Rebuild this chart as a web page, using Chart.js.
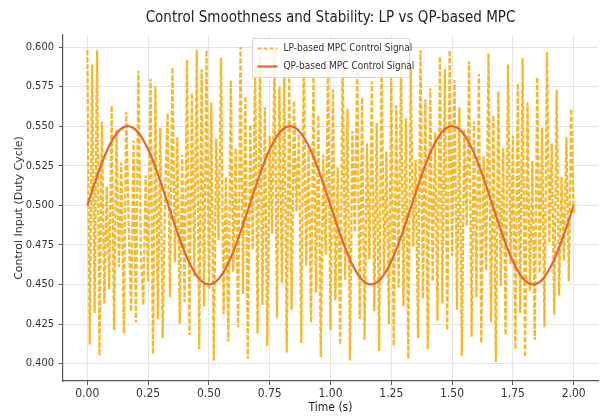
<!DOCTYPE html>
<html>
<head>
<meta charset="utf-8">
<script src="https://cdn.jsdelivr.net/npm/chart.js@4.4.1/dist/chart.umd.min.js"></script>
<style>
  html, body { margin: 0; padding: 0; background: #fff; }
  #wrap { width: 600px; height: 419px; }
</style>
</head>
<body>
<div id="wrap"><canvas id="chart" width="600" height="419"></canvas></div>
<script>
// time grid of the LP signal (s)
const lpTime = [
  0.00, 0.01, 0.02, 0.03, 0.04, 0.05, 0.06, 0.07, 0.08, 0.09,
  0.10, 0.11, 0.12, 0.13, 0.14, 0.15, 0.16, 0.17, 0.18, 0.19,
  0.20, 0.21, 0.22, 0.23, 0.24, 0.25, 0.26, 0.27, 0.28, 0.29,
  0.30, 0.31, 0.32, 0.33, 0.34, 0.35, 0.36, 0.37, 0.38, 0.39,
  0.40, 0.41, 0.42, 0.43, 0.44, 0.45, 0.46, 0.47, 0.48, 0.49,
  0.50, 0.51, 0.52, 0.53, 0.54, 0.55, 0.56, 0.57, 0.58, 0.59,
  0.60, 0.61, 0.62, 0.63, 0.64, 0.65, 0.66, 0.67, 0.68, 0.69,
  0.70, 0.71, 0.72, 0.73, 0.74, 0.75, 0.76, 0.77, 0.78, 0.79,
  0.80, 0.81, 0.82, 0.83, 0.84, 0.85, 0.86, 0.87, 0.88, 0.89,
  0.90, 0.91, 0.92, 0.93, 0.94, 0.95, 0.96, 0.97, 0.98, 0.99,
  1.00, 1.01, 1.02, 1.03, 1.04, 1.05, 1.06, 1.07, 1.08, 1.09,
  1.10, 1.11, 1.12, 1.13, 1.14, 1.15, 1.16, 1.17, 1.18, 1.19,
  1.20, 1.21, 1.22, 1.23, 1.24, 1.25, 1.26, 1.27, 1.28, 1.29,
  1.30, 1.31, 1.32, 1.33, 1.34, 1.35, 1.36, 1.37, 1.38, 1.39,
  1.40, 1.41, 1.42, 1.43, 1.44, 1.45, 1.46, 1.47, 1.48, 1.49,
  1.50, 1.51, 1.52, 1.53, 1.54, 1.55, 1.56, 1.57, 1.58, 1.59,
  1.60, 1.61, 1.62, 1.63, 1.64, 1.65, 1.66, 1.67, 1.68, 1.69,
  1.70, 1.71, 1.72, 1.73, 1.74, 1.75, 1.76, 1.77, 1.78, 1.79,
  1.80, 1.81, 1.82, 1.83, 1.84, 1.85, 1.86, 1.87, 1.88, 1.89,
  1.90, 1.91, 1.92, 1.93, 1.94, 1.95, 1.96, 1.97, 1.98, 1.99,
  2.00
];

// LP-based MPC control signal (approximate)
const lpValues = [
  0.598, 0.412, 0.589, 0.432, 0.598, 0.405, 0.553, 0.438, 0.512, 0.447,
  0.563, 0.421, 0.548, 0.461, 0.527, 0.419, 0.559, 0.488, 0.433, 0.541,
  0.426, 0.585, 0.471, 0.437, 0.519, 0.452, 0.580, 0.406, 0.575, 0.428,
  0.549, 0.416, 0.509, 0.558, 0.442, 0.587, 0.464, 0.543, 0.425, 0.532,
  0.439, 0.592, 0.418, 0.571, 0.455, 0.598, 0.409, 0.586, 0.436, 0.598,
  0.447, 0.565, 0.402, 0.542, 0.478, 0.593, 0.431, 0.518, 0.414, 0.579,
  0.458, 0.536, 0.423, 0.600, 0.444, 0.569, 0.403, 0.551, 0.472, 0.588,
  0.419, 0.596, 0.437, 0.562, 0.411, 0.544, 0.482, 0.597, 0.429, 0.575,
  0.451, 0.590, 0.407, 0.583, 0.434, 0.566, 0.496, 0.545, 0.413, 0.598,
  0.462, 0.538, 0.426, 0.581, 0.445, 0.557, 0.404, 0.532, 0.469, 0.594,
  0.421, 0.573, 0.440, 0.524, 0.412, 0.597, 0.453, 0.561, 0.402, 0.547,
  0.483, 0.589, 0.428, 0.568, 0.415, 0.539, 0.466, 0.578, 0.433, 0.552,
  0.408, 0.595, 0.457, 0.534, 0.425, 0.581, 0.411, 0.563, 0.448, 0.591,
  0.436, 0.555, 0.403, 0.587, 0.474, 0.529, 0.416, 0.598, 0.441, 0.567,
  0.409, 0.574, 0.452, 0.546, 0.427, 0.594, 0.438, 0.586, 0.421, 0.598,
  0.468, 0.579, 0.434, 0.562, 0.405, 0.548, 0.487, 0.591, 0.417, 0.553,
  0.442, 0.583, 0.413, 0.531, 0.459, 0.596, 0.426, 0.557, 0.401, 0.572,
  0.449, 0.536, 0.418, 0.589, 0.463, 0.544, 0.409, 0.577, 0.432, 0.593,
  0.404, 0.565, 0.446, 0.528, 0.415, 0.581, 0.457, 0.549, 0.423, 0.597,
  0.476, 0.539, 0.431, 0.573, 0.443, 0.518, 0.465, 0.543, 0.452, 0.561,
  0.494
];

// QP-based MPC control signal (smooth)
const qpTime = [
  0.0000, 0.0417, 0.0833, 0.1250, 0.1667, 0.2083, 0.2500, 0.2917,
  0.3333, 0.3750, 0.4167, 0.4583, 0.5000, 0.5417, 0.5833, 0.6250,
  0.6667, 0.7083, 0.7500, 0.7917, 0.8333, 0.8750, 0.9167, 0.9583,
  1.0000, 1.0417, 1.0833, 1.1250, 1.1667, 1.2083, 1.2500, 1.2917,
  1.3333, 1.3750, 1.4167, 1.4583, 1.5000, 1.5417, 1.5833, 1.6250,
  1.6667, 1.7083, 1.7500, 1.7917, 1.8333, 1.8750, 1.9167, 1.9583,
  2.0000
];
const qpValues = [
  0.5000, 0.5191, 0.5354, 0.5462, 0.5500, 0.5462, 0.5354, 0.5191,
  0.5000, 0.4809, 0.4646, 0.4538, 0.4500, 0.4538, 0.4646, 0.4809,
  0.5000, 0.5191, 0.5354, 0.5462, 0.5500, 0.5462, 0.5354, 0.5191,
  0.5000, 0.4809, 0.4646, 0.4538, 0.4500, 0.4538, 0.4646, 0.4809,
  0.5000, 0.5191, 0.5354, 0.5462, 0.5500, 0.5462, 0.5354, 0.5191,
  0.5000, 0.4809, 0.4646, 0.4538, 0.4500, 0.4538, 0.4646, 0.4809,
  0.5000
];

const xTicks = [0, 0.25, 0.5, 0.75, 1.0, 1.25, 1.5, 1.75, 2.0];
const yTicks = [0.400, 0.425, 0.450, 0.475, 0.500, 0.525, 0.550, 0.575, 0.600];

const seriesNames = ['LP-based MPC Control Signal', 'QP-based MPC Control Signal'];
const chartTitle = 'Control Smoothness and Stability: LP vs QP-based MPC';

const LP_COLOR = 'rgba(243, 176, 20, 0.9)';
const QP_COLOR = '#e8642c';
const FONT = "'DejaVu Sans Condensed', 'DejaVu Sans', sans-serif";

// title centred over the axes, legend inside the plot (upper centre)
const decorations = {
  id: 'decorations',
  afterDraw(chart) {
    const ctx = chart.ctx;
    const a = chart.chartArea;
    const cx = (a.left + a.right) / 2;
    ctx.save();
    ctx.font = '15px ' + FONT;
    ctx.fillStyle = '#222';
    ctx.textAlign = 'center';
    ctx.textBaseline = 'middle';
    ctx.fillText(chartTitle, cx, 18);

    const w = 157, h = 39;
    const x0 = Math.round(cx - w / 2) + 0.5;
    const y0 = a.top + 3.5;
    ctx.fillStyle = 'rgba(255,255,255,0.85)';
    ctx.strokeStyle = '#d6d6d6';
    ctx.lineWidth = 1;
    ctx.beginPath();
    ctx.rect(x0, y0, w, h);
    ctx.fill();
    ctx.stroke();

    ctx.textAlign = 'left';
    ctx.font = '10px ' + FONT;
    ctx.fillStyle = '#333';
    const rows = [y0 + 10, y0 + 28];
    ctx.strokeStyle = LP_COLOR;
    ctx.lineWidth = 2;
    ctx.setLineDash([4, 2]);
    ctx.beginPath();
    ctx.moveTo(x0 + 5, rows[0]);
    ctx.lineTo(x0 + 25, rows[0]);
    ctx.stroke();
    ctx.setLineDash([]);
    ctx.strokeStyle = QP_COLOR;
    ctx.lineWidth = 2.2;
    ctx.beginPath();
    ctx.moveTo(x0 + 5, rows[1]);
    ctx.lineTo(x0 + 25, rows[1]);
    ctx.stroke();

    ctx.fillText(seriesNames[0], x0 + 31, rows[0]);
    ctx.fillText(seriesNames[1], x0 + 31, rows[1]);
    ctx.restore();
  }
};

const ctx = document.getElementById('chart').getContext('2d');
new Chart(ctx, {
  type: 'line',
  data: {
    datasets: [
      {
        label: seriesNames[0],
        data: lpTime.map((t, i) => ({ x: t, y: lpValues[i] })),
        borderColor: LP_COLOR,
        borderWidth: 2.3,
        borderDash: [5, 2],
        pointRadius: 0,
        tension: 0,
        order: 1
      },
      {
        label: seriesNames[1],
        data: qpTime.map((t, i) => ({ x: t, y: qpValues[i] })),
        borderColor: QP_COLOR,
        borderWidth: 2.2,
        pointRadius: 0,
        cubicInterpolationMode: 'monotone',
        order: 0
      }
    ]
  },
  options: {
    responsive: false,
    animation: false,
    layout: { padding: { left: 0, right: 2, top: 35, bottom: 0 } },
    plugins: {
      legend: { display: false },
      tooltip: { enabled: false },
      title: { display: false }
    },
    scales: {
      x: {
        type: 'linear',
        min: -0.1,
        max: 2.1,
        afterBuildTicks: (s) => { s.ticks = xTicks.map(v => ({ value: v })); },
        afterFit: (s) => { s.height = 38; },
        ticks: {
          color: '#333',
          font: { family: FONT, size: 12 },
          padding: 2,
          maxRotation: 0,
          callback: (v) => Number(v).toFixed(2)
        },
        grid: { color: '#e4e4e4', tickColor: '#555', tickLength: 4 },
        border: { display: true, color: '#555', width: 1.2 },
        title: {
          display: true,
          text: 'Time (s)',
          color: '#222',
          font: { family: FONT, size: 12 },
          padding: { top: 0, bottom: 4 }
        }
      },
      y: {
        min: 0.389,
        max: 0.6076,
        afterBuildTicks: (s) => { s.ticks = yTicks.map(v => ({ value: v })); },
        afterFit: (s) => { s.width = 63; },
        ticks: {
          color: '#333',
          font: { family: FONT, size: 11 },
          padding: 5,
          callback: (v) => Number(v).toFixed(3)
        },
        grid: { color: '#e4e4e4', tickColor: '#555', tickLength: 4 },
        border: { display: true, color: '#555', width: 1.2 },
        title: {
          display: true,
          text: 'Control Input (Duty Cycle)',
          color: '#333',
          font: { family: "'DejaVu Sans', sans-serif", size: 11 },
          padding: { top: 13, bottom: 0 }
        }
      }
    }
  },
  plugins: [decorations]
});
</script>
</body>
</html>
